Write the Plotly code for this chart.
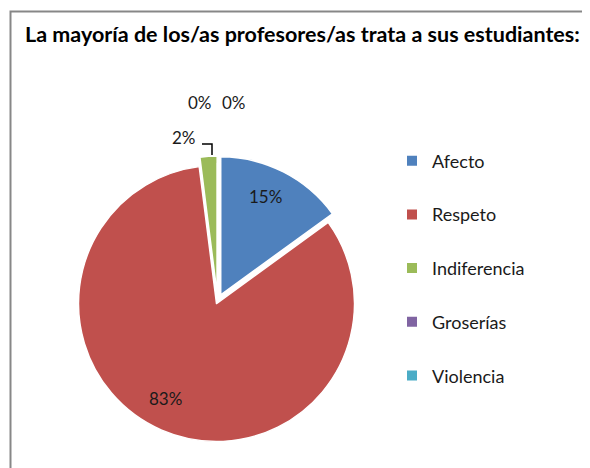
import plotly.graph_objects as go

title = "La mayoría de los/as profesores/as trata a sus estudiantes:"
categories = ["Afecto", "Respeto", "Indiferencia", "Groserías", "Violencia"]
values = [15, 83, 2, 0, 0]
colors = ["#4F81BD", "#C0504D", "#9BBB59", "#8064A2", "#4BACC6"]
pulls = [0.05, 0.02, 0.05, 0, 0]
# label anchor points (window pixels) for the percentage labels, per category
label_px = [(265, 196), (165, 398), (184, 137), (200, 102), (234, 102)]

# the page body has an 8px margin, so the figure is drawn 8px in from the window edge
OFF = 8
W, H = 590 - OFF, 468 - OFF
FONT = "Lato"


def fx(px):
    return (px - OFF) / W


def fy(py):
    return 1 - (py - OFF) / H


R = 138
CX, CY = 217.6, 301
half = R * (1 + max(pulls))

fig = go.Figure()
fig.add_trace(go.Pie(
    labels=categories, values=values, sort=False, direction="clockwise",
    rotation=0, pull=pulls,
    marker=dict(colors=colors, line=dict(color="white", width=1.5)),
    textinfo="none",
    showlegend=False, hoverinfo="label+percent",
    domain=dict(x=[fx(CX - half), fx(CX + half)], y=[fy(CY + half), fy(CY - half)]),
))

for c, col in zip(categories, colors):
    fig.add_trace(go.Scatter(
        x=[None], y=[None], mode="markers", name=c, legendgroup=c,
        marker=dict(symbol="square", size=10, color=col),
        showlegend=True,
    ))

total = sum(values)
annotations = []
for v, (px, py) in zip(values, label_px):
    annotations.append(dict(
        text=f"{round(100 * v / total)}%", x=fx(px), y=fy(py),
        xref="paper", yref="paper", showarrow=False,
        xanchor="center", yanchor="middle",
        font=dict(family=FONT, size=17, color="#1a1a1a"),
    ))

fig.update_layout(
    width=W, height=H,
    margin=dict(l=0, r=0, t=0, b=0),
    paper_bgcolor="white", plot_bgcolor="white",
    title=dict(text="<b>" + title + "</b>", x=fx(25), xanchor="left",
               y=fy(34), yanchor="middle", xref="container", yref="container",
               font=dict(family=FONT, size=21.5, color="black")),
    xaxis=dict(visible=False), yaxis=dict(visible=False),
    legend=dict(x=fx(392), y=fy(142.5), xanchor="left", yanchor="top",
                font=dict(family=FONT, size=18, color="#1a1a1a"),
                tracegroupgap=27.3, bgcolor="rgba(0,0,0,0)"),
    annotations=annotations,
    shapes=[
        dict(type="rect", xref="paper", yref="paper",
             x0=fx(10.5), x1=1.05, y0=-0.05, y1=fy(11.5),
             line=dict(color="#878787", width=2)),
        dict(type="path", xref="paper", yref="paper",
             path=f"M {fx(202)},{fy(144)} L {fx(212)},{fy(144)} L {fx(212)},{fy(155)}",
             line=dict(color="black", width=1.5)),
    ],
)

fig.write_html("out.html")
